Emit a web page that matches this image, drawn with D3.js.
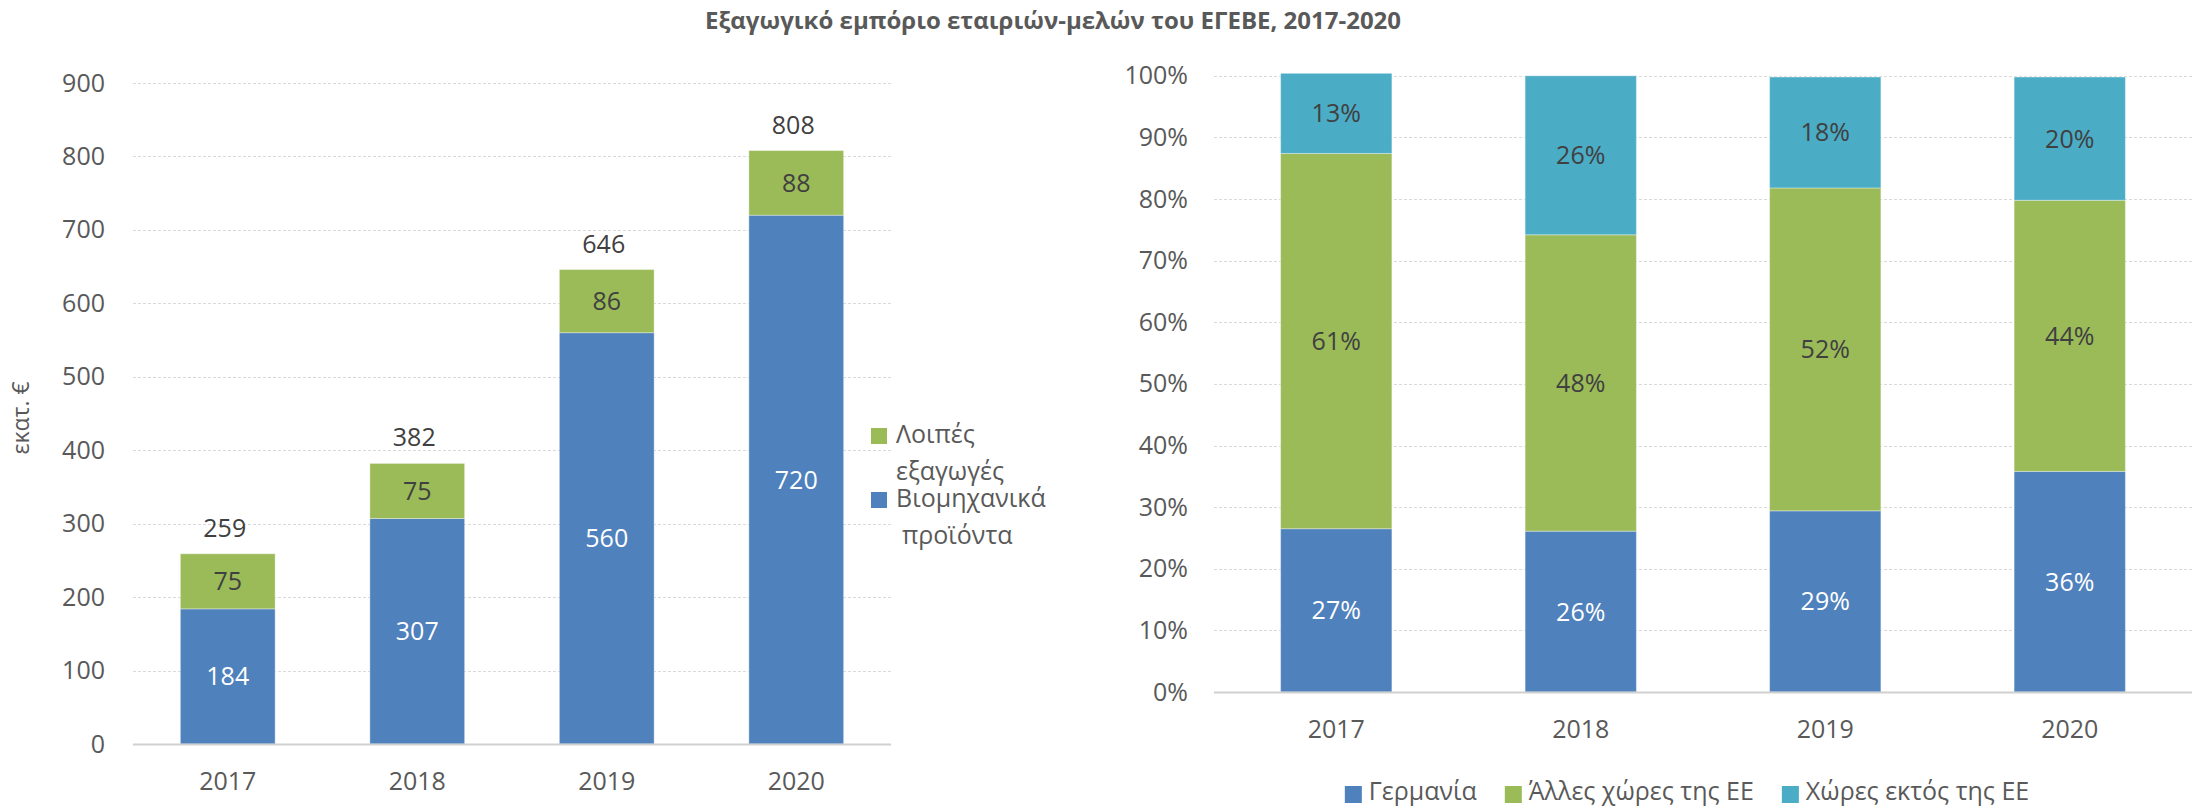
<!DOCTYPE html>
<html>
<head>
<meta charset="utf-8">
<script src="https://cdn.jsdelivr.net/npm/d3@7"></script>
<style>
  html, body { margin: 0; padding: 0; background: #fff; }
  text { font-family: "Open Sans", "Noto Sans", sans-serif; }
</style>
</head>
<body>
<svg id="chart" width="2201" height="809"></svg>
<script>
// ---------- DATA ----------
const title = "Εξαγωγικό εμπόριο εταιριών-μελών του ΕΓΕΒΕ, 2017-2020";
const years = ["2017", "2018", "2019", "2020"];

// Left chart (εκατ. €)
const industrialProducts = [184, 307, 560, 720];   // Βιομηχανικά προϊόντα
const otherExports = [75, 75, 86, 88];              // Λοιπές εξαγωγές
const totals = [259, 382, 646, 808];
const leftTicks = [0, 100, 200, 300, 400, 500, 600, 700, 800, 900];
const leftSeriesNames = ["Βιομηχανικά προϊόντα", "Λοιπές εξαγωγές"];
const leftAxisTitle = "εκατ. €";

// Right chart (%)
const germany = [26.5, 26.1, 29.4, 35.8];           // Γερμανία
const otherEU = [60.9, 48.1, 52.4, 44.0];           // Άλλες χώρες της ΕΕ
const nonEU = [13.0, 25.8, 18.0, 20.0];             // Χώρες εκτός της ΕΕ
const germanyLabels = ["27%", "26%", "29%", "36%"];
const otherEULabels = ["61%", "48%", "52%", "44%"];
const nonEULabels = ["13%", "26%", "18%", "20%"];
const rightTicks = [0, 10, 20, 30, 40, 50, 60, 70, 80, 90, 100];
const rightSeriesNames = ["Γερμανία", "Άλλες χώρες της ΕΕ", "Χώρες εκτός της ΕΕ"];

// ---------- STYLE ----------
const BLUE = "#4F81BD", GREEN = "#9BBB59", CYAN = "#4BACC6";
const AXIS_TXT = "#595959", LABEL_TXT = "#404040", GRID = "#D9D9D9";
const FS = 25;

const svg = d3.select("#chart");

// Title
svg.append("text")
  .attr("x", 1053).attr("y", 29)
  .attr("text-anchor", "middle")
  .attr("font-size", 24).attr("font-weight", "bold")
  .attr("fill", AXIS_TXT)
  .text(title);

// ================= LEFT CHART =================
const xL = d3.scaleBand().domain(years).range([133, 891]).paddingInner(0.5).paddingOuter(0.25);
const yL = d3.scaleLinear().domain([0, 900]).range([744, 83]);

const gL = svg.append("g");
// gridlines
gL.selectAll("line.grid").data(leftTicks.filter(d => d > 0)).join("line")
  .attr("x1", 133).attr("x2", 891)
  .attr("y1", d => Math.round(yL(d)) + 0.5).attr("y2", d => Math.round(yL(d)) + 0.5)
  .attr("stroke", GRID).attr("stroke-width", 1).attr("stroke-dasharray", "3,2");

// y axis labels
const yAxisL = d3.axisLeft(yL).tickValues(leftTicks).tickSize(0).tickPadding(0);
const gyL = gL.append("g").attr("transform", "translate(105,0)").call(yAxisL);
gyL.select(".domain").remove();
gyL.selectAll("text").attr("font-size", FS).attr("fill", AXIS_TXT)
  .attr("font-family", "'Open Sans', sans-serif");

// axis title
svg.append("text")
  .attr("transform", "translate(29,418) rotate(-90)")
  .attr("text-anchor", "middle")
  .attr("font-size", 23).attr("fill", AXIS_TXT)
  .text(leftAxisTitle);

// stacked bars
const leftRows = years.map((y, i) => ({ year: y, ind: industrialProducts[i], oth: otherExports[i] }));
const leftStack = d3.stack().keys(["ind", "oth"])(leftRows);
const leftColors = { ind: BLUE, oth: GREEN };
const leftTxt = { ind: "#fff", oth: LABEL_TXT };

leftStack.forEach(layer => {
  gL.append("g").selectAll("rect").data(layer).join("rect")
    .attr("x", d => xL(d.data.year))
    .attr("width", xL.bandwidth())
    .attr("y", d => yL(d[1]))
    .attr("height", d => yL(d[0]) - yL(d[1]))
    .attr("fill", leftColors[layer.key])
    .attr("stroke", "rgba(255,255,255,0.35)").attr("stroke-width", 1);
  gL.append("g").selectAll("text").data(layer).join("text")
    .attr("x", d => xL(d.data.year) + xL.bandwidth() / 2)
    .attr("y", d => (yL(d[0]) + yL(d[1])) / 2)
    .attr("dy", "0.36em")
    .attr("text-anchor", "middle")
    .attr("font-size", FS).attr("fill", leftTxt[layer.key])
    .text(d => d.data[layer.key]);
});

// totals
gL.append("g").selectAll("text").data(years).join("text")
  .attr("x", d => xL(d) + xL.bandwidth() / 2 - 3)
  .attr("y", (d, i) => yL(totals[i]) - 17)
  .attr("text-anchor", "middle")
  .attr("font-size", FS).attr("fill", LABEL_TXT)
  .text((d, i) => totals[i]);

// baseline
gL.append("line").attr("x1", 133).attr("x2", 891)
  .attr("y1", yL(0) + 0.5).attr("y2", yL(0) + 0.5)
  .attr("stroke", "#D0D0D0").attr("stroke-width", 2);

// x labels
const xAxisL = d3.axisBottom(xL).tickSize(0).tickPadding(0);
const gxL = gL.append("g").attr("transform", "translate(0,790)").call(xAxisL);
gxL.select(".domain").remove();
gxL.selectAll("text").attr("font-size", FS).attr("fill", AXIS_TXT).attr("dy", 0)
  .attr("font-family", "'Open Sans', sans-serif");

// left legend (Λοιπές εξαγωγές on top, Βιομηχανικά προϊόντα below)
const legL = svg.append("g");
const legLItems = [
  { color: GREEN, lines: ["Λοιπές", "εξαγωγές"], y: 428, indent: 0 },
  { color: BLUE, lines: ["Βιομηχανικά", "προϊόντα"], y: 492, indent: 6 }
];
legLItems.forEach(it => {
  legL.append("rect").attr("x", 871).attr("y", it.y).attr("width", 16).attr("height", 16).attr("fill", it.color);
  it.lines.forEach((ln, j) => {
    legL.append("text")
      .attr("x", 896 + (j === 1 ? it.indent : 0))
      .attr("y", it.y + 15 + j * 37)
      .attr("font-size", FS).attr("fill", AXIS_TXT)
      .text(ln);
  });
});

// ================= RIGHT CHART =================
const xR = d3.scaleBand().domain(years).range([1214, 2192]).paddingInner(0.545).paddingOuter(0.2725);
const yR = d3.scaleLinear().domain([0, 100]).range([692, 75.8]);

const gR = svg.append("g");
gR.selectAll("line.grid").data(rightTicks.filter(d => d > 0)).join("line")
  .attr("x1", 1214).attr("x2", 2192)
  .attr("y1", d => Math.round(yR(d)) + 0.5).attr("y2", d => Math.round(yR(d)) + 0.5)
  .attr("stroke", GRID).attr("stroke-width", 1).attr("stroke-dasharray", "3,2");

const yAxisR = d3.axisLeft(yR).tickValues(rightTicks).tickSize(0).tickPadding(0).tickFormat(d => d + "%");
const gyR = gR.append("g").attr("transform", "translate(1188,0)").call(yAxisR);
gyR.select(".domain").remove();
gyR.selectAll("text").attr("font-size", FS).attr("fill", AXIS_TXT)
  .attr("font-family", "'Open Sans', sans-serif");

const rightRows = years.map((y, i) => ({ year: y, de: germany[i], eu: otherEU[i], non: nonEU[i], i }));
const rightStack = d3.stack().keys(["de", "eu", "non"])(rightRows);
const rightColors = { de: BLUE, eu: GREEN, non: CYAN };
const rightTxt = { de: "#fff", eu: LABEL_TXT, non: LABEL_TXT };
const rightLabels = { de: germanyLabels, eu: otherEULabels, non: nonEULabels };

rightStack.forEach(layer => {
  gR.append("g").selectAll("rect").data(layer).join("rect")
    .attr("x", d => xR(d.data.year))
    .attr("width", xR.bandwidth())
    .attr("y", d => yR(d[1]))
    .attr("height", d => yR(d[0]) - yR(d[1]))
    .attr("fill", rightColors[layer.key])
    .attr("stroke", "rgba(255,255,255,0.35)").attr("stroke-width", 1);
  gR.append("g").selectAll("text").data(layer).join("text")
    .attr("x", d => xR(d.data.year) + xR.bandwidth() / 2)
    .attr("y", d => (yR(d[0]) + yR(d[1])) / 2)
    .attr("dy", "0.36em")
    .attr("text-anchor", "middle")
    .attr("font-size", FS).attr("fill", rightTxt[layer.key])
    .text(d => rightLabels[layer.key][d.data.i]);
});

gR.append("line").attr("x1", 1214).attr("x2", 2192)
  .attr("y1", yR(0) + 0.5).attr("y2", yR(0) + 0.5)
  .attr("stroke", "#D0D0D0").attr("stroke-width", 2);

const xAxisR = d3.axisBottom(xR).tickSize(0).tickPadding(0);
const gxR = gR.append("g").attr("transform", "translate(0,738)").call(xAxisR);
gxR.select(".domain").remove();
gxR.selectAll("text").attr("font-size", FS).attr("fill", AXIS_TXT).attr("dy", 0)
  .attr("font-family", "'Open Sans', sans-serif");

// right legend
const legR = svg.append("g");
const legColors = [BLUE, GREEN, CYAN];
let cursor = 0;
const items = rightSeriesNames.map((name, i) => {
  const g = legR.append("g");
  g.append("rect").attr("x", 0).attr("y", -14).attr("width", 17).attr("height", 17).attr("fill", legColors[i]);
  const t = g.append("text").attr("x", 24).attr("y", 0).attr("font-size", FS).attr("fill", AXIS_TXT).text(name);
  const w = 24 + t.node().getComputedTextLength();
  g.attr("transform", `translate(${cursor},0)`);
  cursor += w + 28;
  return g;
});
const totalW = cursor - 28;
legR.attr("transform", `translate(${1687 - totalW / 2},800)`);
</script>
</body>
</html>
